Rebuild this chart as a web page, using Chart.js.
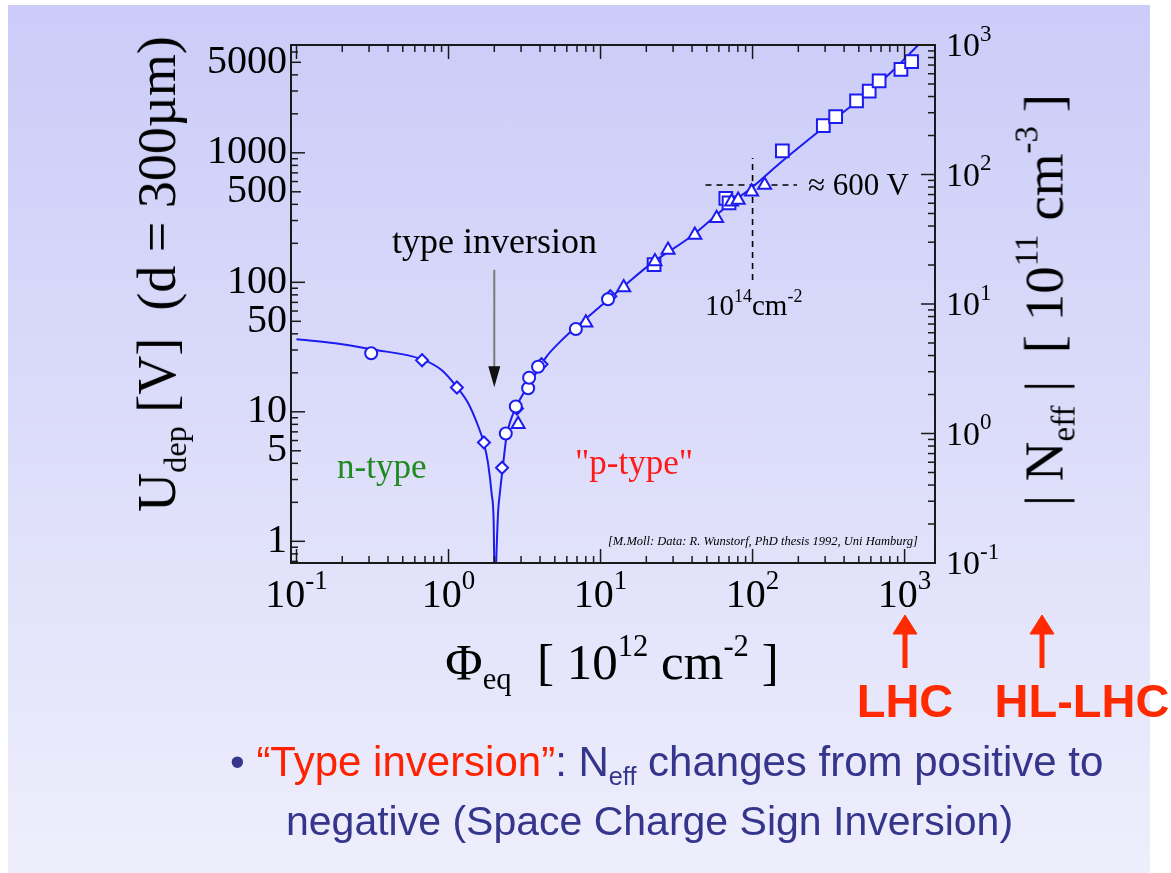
<!DOCTYPE html>
<html>
<head>
<meta charset="utf-8">
<script src="https://cdn.jsdelivr.net/npm/chart.js@4.4.0/dist/chart.umd.min.js"></script>
<style>
body { margin:0; width:1171px; height:873px; background:#fff; position:relative; overflow:hidden; font-family:'Liberation Serif', serif; }
#slide { position:absolute; left:8px; top:5px; width:1142px; height:868px; background:linear-gradient(#cbccf8, #eeeefc); }
canvas { position:absolute; left:0; top:0; }
.t { position:absolute; white-space:nowrap; line-height:1; }
.rot { transform:translate(-50%,-50%) rotate(-90deg); }
.mid { transform:translate(-50%,-50%); }
sub { font-size:0.6em; vertical-align:-0.35em; line-height:0; }
sup { font-size:0.6em; vertical-align:0.75em; line-height:0; }
.red { color:#ff2200; }
.lbl { font-family:'Liberation Sans', Arial, sans-serif; font-weight:bold; font-size:47px; color:#ff2a00; }
.bul { font-family:'Liberation Sans', Arial, sans-serif; font-size:42px; color:#35358c; }
</style>
</head>
<body>
<div id="slide"></div>
<canvas id="grafico" width="1171" height="873"></canvas>

<!-- titulos dos eixos -->
<div class="t rot" style="left:157px;top:274px;font-size:54px">U<sub>dep</sub> [V]&nbsp; (d = 300µm)</div>
<div class="t mid" style="left:612px;top:662px;font-size:51px">Φ<sub>eq</sub>&nbsp; [ 10<sup>12</sup> cm<sup>-2</sup> ]</div>
<div class="t rot" style="left:1044px;top:300px;font-size:55px">| N<sub>eff</sub> | &nbsp;[ 10<sup>11</sup> cm<sup>-3</sup> ]</div>

<!-- anotacoes -->
<div class="t" style="left:392px;top:223px;font-size:36px">type inversion</div>
<div class="t" style="left:337px;top:449px;font-size:35px;color:#1f8a1f">n-type</div>
<div class="t" style="left:575px;top:445px;font-size:35px;color:#ff1a1a">"p-type"</div>
<div class="t" style="left:808px;top:169px;font-size:31px">≈ 600 V</div>
<div class="t" style="left:705px;top:291px;font-size:29px">10<sup style="font-size:0.62em">14</sup>cm<sup style="font-size:0.62em">-2</sup></div>
<div class="t" style="left:608px;top:535px;font-size:12.5px;font-style:italic">[M.Moll: Data: R. Wunstorf, PhD thesis 1992, Uni Hamburg]</div>

<!-- LHC / HL-LHC -->
<svg style="position:absolute;left:0;top:0" width="1171" height="873">
  <g fill="#ff2a00" stroke="#ff2a00">
    <line x1="905" y1="630" x2="905" y2="668" stroke-width="5"/>
    <polygon points="893,634 905,615 917,634" stroke-width="1"/>
    <line x1="1042" y1="630" x2="1042" y2="668" stroke-width="5"/>
    <polygon points="1030,634 1042,615 1054,634" stroke-width="1"/>
  </g>
</svg>
<div class="t lbl mid" style="left:905px;top:700px">LHC</div>
<div class="t lbl mid" style="left:1082px;top:700px">HL-LHC</div>

<div class="t bul" style="left:230px;top:741px">• <span class="red">“Type inversion”</span>: N<sub>eff</sub> changes from positive to</div>
<div class="t bul" style="left:286px;top:801px;font-size:41px">negative (Space Charge Sign Inversion)</div>

<script>
// fluencia [10^12 cm^-2] x tensao de deplecao [V]
var circ_x = [0.31, 2.38, 2.77, 3.34, 3.39, 3.88, 6.88, 11.2];
var circ_y = [28.3, 6.8, 11, 15.2, 18.3, 22.3, 43.6, 74];

var diam_x = [0.67, 1.135, 1.71, 2.25, 2.82, 4.09, 11.6];
var diam_y = [25, 15.4, 5.8, 3.7, 10.6, 23.3, 78];

var tri_x = [2.87, 8.0, 14.2, 22.8, 27.8, 41.7, 58, 72.7, 80.4, 98.5, 120];
var tri_y = [8.0, 48.8, 91, 145, 178, 232, 312, 419, 432, 500, 564];

var quad_x = [22.5, 66.7, 70, 157, 292, 352, 483, 585, 680, 946, 1112];
var quad_y = [137, 445, 410, 1033, 1620, 1900, 2515, 3000, 3590, 4410, 5055];

// curva do ajuste
var fit_x = [0.1, 0.18, 0.31, 0.67, 0.9, 1.13, 1.35, 1.57, 1.71, 1.82, 1.92, 1.98, 2.01,
             2.04, 2.07, 2.12, 2.18, 2.29, 2.41, 2.8, 3.43, 4.41, 5.45, 6.28, 10.4, 14.8,
             21.1, 40.6, 67.5, 100, 151, 292, 483, 800, 1230];
var fit_y = [36.3, 33.8, 30.4, 25.4, 21, 15.6, 11.6, 7.7, 5.7, 4.0, 2.35, 1.45, 0.5,
             0.5, 0.85, 1.7, 2.4, 4.0, 6.5, 11, 16.6, 26.7, 35, 41, 68, 97,
             137, 232, 385, 545, 830, 1560, 2480, 4100, 6800];

// linhas tracejadas (10^14 cm^-2, ~600 V)
var cruz_h_x = [49, 196];
var cruz_h_y = [564, 564];
var cruz_v_x = [100, 100];
var cruz_v_y = [104, 912];

// ticks
var xTicks = [0.1, 1, 10, 100, 1000];
var uTicks = [1, 5, 10, 50, 100, 500, 1000, 5000];
var nTicks = [0.1, 1, 10, 100, 1000];

var xMin = 0.092, xMax = 1585;
var nMin = 0.1, nMax = 1000;
var fator = 6.8; // U = fator * Neff

function pts(xs, ys) {
    var r = [];
    for (var i = 0; i < xs.length; i++) r.push({x: xs[i], y: ys[i]});
    return r;
}

function marca(label, xs, ys, estilo, raio) {
    return {
        label: label, data: pts(xs, ys), showLine: false,
        pointStyle: estilo, pointRadius: raio, pointBorderWidth: 2,
        pointBorderColor: '#1c1cf0', pointBackgroundColor: '#ffffff', order: 1
    };
}

function linha(ctx, x1, y1, x2, y2) {
    ctx.beginPath(); ctx.moveTo(x1, y1); ctx.lineTo(x2, y2); ctx.stroke();
}

function potencia(ctx, e, x, y, fs, fe, alinha) {
    ctx.font = fs + 'px "Liberation Serif"';
    var w1 = ctx.measureText('10').width;
    ctx.font = fe + 'px "Liberation Serif"';
    var w2 = ctx.measureText(e).width;
    var x0 = alinha == 'center' ? x - (w1 + w2) / 2 : x;
    ctx.textAlign = 'left';
    ctx.textBaseline = 'alphabetic';
    ctx.font = fs + 'px "Liberation Serif"';
    ctx.fillText('10', x0, y + fs * 0.33);
    ctx.font = fe + 'px "Liberation Serif"';
    ctx.fillText(e, x0 + w1, y - fs * 0.12);
}

var moldura = {
    id: 'moldura',
    afterDraw: function(chart) {
        var ctx = chart.ctx, a = chart.chartArea;
        var x = chart.scales.x, yu = chart.scales.y, yn = chart.scales.y2;
        ctx.save();
        ctx.strokeStyle = '#1a1a1a';
        ctx.fillStyle = '#000';
        ctx.lineWidth = 1.5;
        // ticks para dentro
        for (var e = -2; e <= 4; e++) {
            for (var m = 1; m <= 9; m++) {
                var v = m * Math.pow(10, e);
                if (v >= x.min && v <= x.max) {
                    var px = x.getPixelForValue(v), L = m == 1 ? 14 : 7;
                    linha(ctx, px, a.bottom, px, a.bottom - L);
                    linha(ctx, px, a.top, px, a.top + L);
                }
                if (v >= yu.min && v <= yu.max) {
                    var py = yu.getPixelForValue(v), L2 = m == 1 ? 14 : (m == 5 ? 10 : 7);
                    linha(ctx, a.left, py, a.left + L2, py);
                }
                if (v >= yn.min && v <= yn.max) {
                    var pn = yn.getPixelForValue(v), L3 = m == 1 ? 14 : 7;
                    linha(ctx, a.right, pn, a.right - L3, pn);
                }
            }
        }
        ctx.lineWidth = 2;
        ctx.strokeRect(a.left, a.top, a.right - a.left, a.bottom - a.top);

        // rotulos 10^n
        xTicks.forEach(function(v) {
            potencia(ctx, String(Math.round(Math.log10(v))), x.getPixelForValue(v), 594, 40, 27, 'center');
        });
        nTicks.forEach(function(v) {
            potencia(ctx, String(Math.round(Math.log10(v))), a.right + 11, yn.getPixelForValue(v), 34, 23, 'left');
        });

        // seta "type inversion"
        var sx = x.getPixelForValue(2.0);
        var t1 = yu.getPixelForValue(125), t2 = yu.getPixelForValue(15.5);
        ctx.strokeStyle = '#7a7a7a';
        ctx.lineWidth = 2;
        linha(ctx, sx, t1, sx, t2 - 18);
        ctx.fillStyle = '#111';
        ctx.beginPath();
        ctx.moveTo(sx - 6, t2 - 21); ctx.lineTo(sx + 6, t2 - 21); ctx.lineTo(sx, t2);
        ctx.closePath(); ctx.fill();
        ctx.restore();
    }
};

var ctx = document.getElementById('grafico');
var chartGraph = new Chart(ctx, {
    type: 'scatter',
    data: {
        datasets: [
            marca('circulos', circ_x, circ_y, 'circle', 6),
            marca('losangos', diam_x, diam_y, 'rectRot', 6),
            marca('triangulos', tri_x, tri_y, 'triangle', 7.5),
            marca('quadrados', quad_x, quad_y, 'rect', 9),
            {
                label: 'ajuste', data: pts(fit_x, fit_y), showLine: true,
                borderColor: '#1c1cf0', borderWidth: 2, pointRadius: 0,
                cubicInterpolationMode: 'monotone', order: 5
            },
            {
                label: 'h', data: pts(cruz_h_x, cruz_h_y), showLine: true,
                borderColor: '#000', borderWidth: 1.6, borderDash: [6, 5], pointRadius: 0, order: 6
            },
            {
                label: 'v', data: pts(cruz_v_x, cruz_v_y), showLine: true,
                borderColor: '#000', borderWidth: 1.6, borderDash: [6, 5], pointRadius: 0, order: 6
            }
        ]
    },
    options: {
        responsive: false,
        animation: false,
        layout: { padding: { top: 45, left: 0, right: 0, bottom: 0 } },
        plugins: { legend: { display: false }, tooltip: { enabled: false } },
        scales: {
            x: {
                type: 'logarithmic', position: 'bottom', min: xMin, max: xMax,
                grid: { display: false }, border: { display: false },
                ticks: { display: false },
                afterBuildTicks: function(s) { s.ticks = xTicks.map(function(v) { return {value: v}; }); },
                afterFit: function(s) { s.height = 310; }
            },
            y: {
                type: 'logarithmic', position: 'left', min: nMin * fator, max: nMax * fator,
                grid: { display: false, drawTicks: false }, border: { display: false },
                ticks: {
                    color: '#000', padding: 4,
                    font: { family: 'Liberation Serif', size: 40 },
                    callback: function(v) { return uTicks.indexOf(v) >= 0 ? String(v) : ''; }
                },
                afterBuildTicks: function(s) { s.ticks = uTicks.map(function(v) { return {value: v}; }); },
                afterFit: function(s) { s.width = 291; }
            },
            y2: {
                type: 'logarithmic', position: 'right', min: nMin, max: nMax,
                grid: { display: false }, border: { display: false },
                ticks: { display: false },
                afterBuildTicks: function(s) { s.ticks = nTicks.map(function(v) { return {value: v}; }); },
                afterFit: function(s) { s.width = 236; }
            }
        }
    },
    plugins: [moldura]
});
</script>
</body>
</html>
